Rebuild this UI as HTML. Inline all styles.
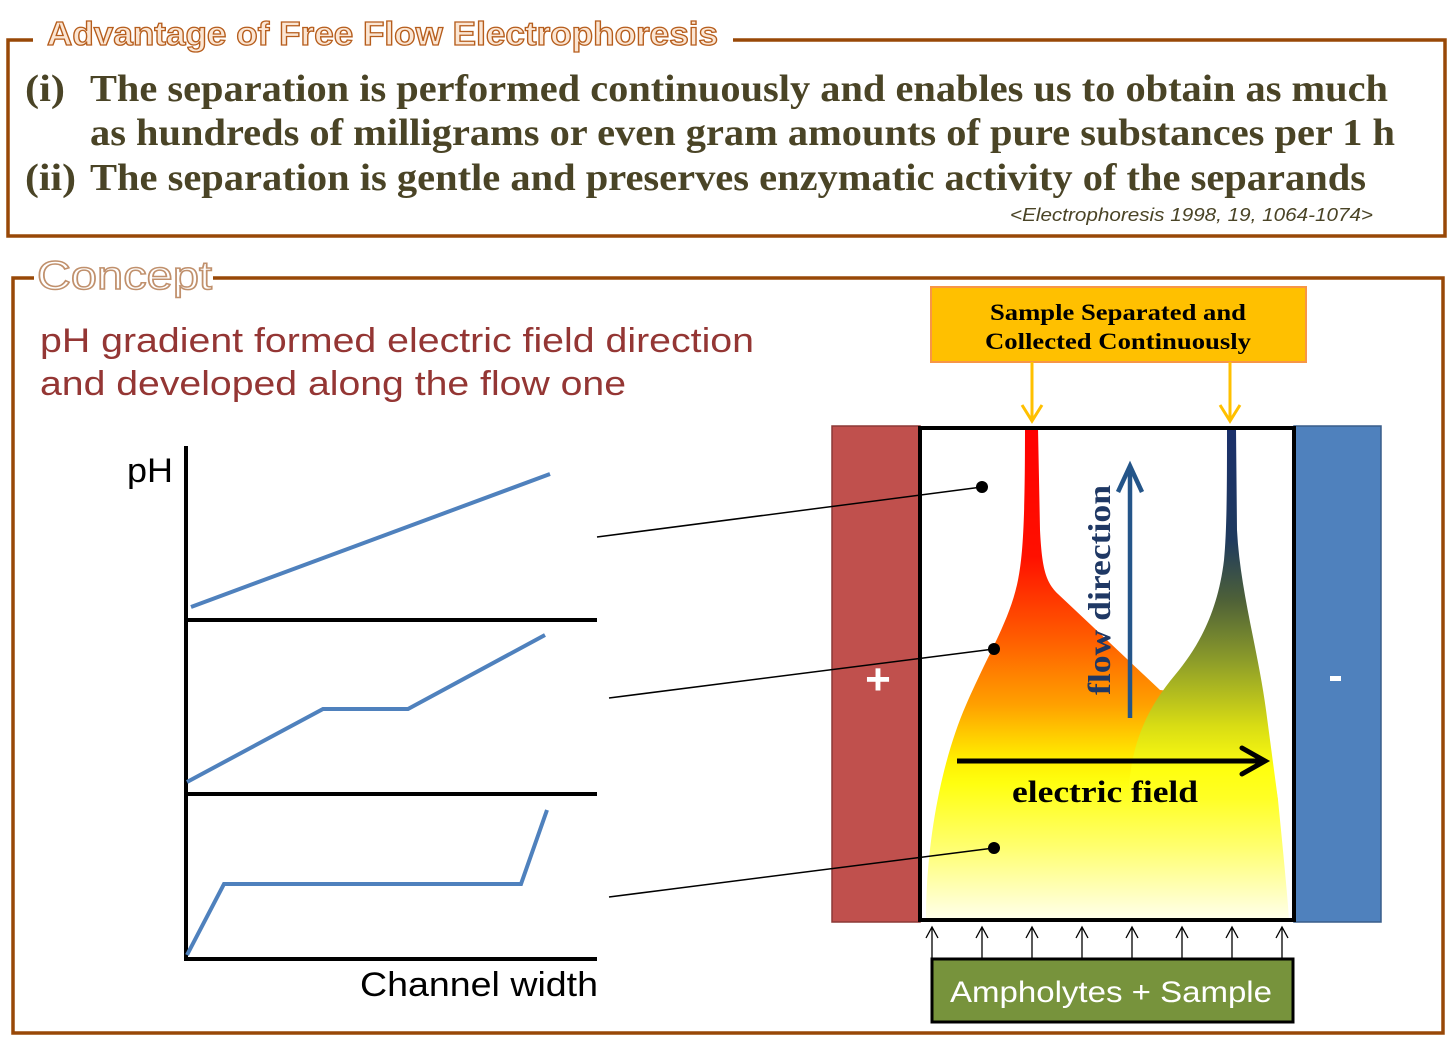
<!DOCTYPE html>
<html><head><meta charset="utf-8"><style>
html,body{margin:0;padding:0;background:#fff;}
svg{display:block;}
</style></head><body>
<svg width="1448" height="1039" viewBox="0 0 1448 1039" xmlns="http://www.w3.org/2000/svg">
<defs>
<linearGradient id="gMain" gradientUnits="userSpaceOnUse" x1="0" y1="428" x2="0" y2="922">
<stop offset="0" stop-color="#ff0000"/>
<stop offset="0.26" stop-color="#ff1000"/>
<stop offset="0.42" stop-color="#ff5a00"/>
<stop offset="0.56" stop-color="#ffa000"/>
<stop offset="0.67" stop-color="#ffee00"/>
<stop offset="0.72" stop-color="#ffff10"/>
<stop offset="0.85" stop-color="#ffff70"/>
<stop offset="1" stop-color="#fffff0"/>
</linearGradient>
<linearGradient id="gGreen" gradientUnits="userSpaceOnUse" x1="0" y1="428" x2="0" y2="800">
<stop offset="0" stop-color="#1a2f6a"/>
<stop offset="0.30" stop-color="#1f3a5e"/>
<stop offset="0.46" stop-color="#4d6038"/>
<stop offset="0.62" stop-color="#8a9a2a"/>
<stop offset="0.80" stop-color="#d8dc14"/>
<stop offset="0.92" stop-color="#ffff10"/>
<stop offset="1" stop-color="#ffff26"/>
</linearGradient>
</defs>

<!-- Top box -->
<path d="M33,40 L8,40 L8,236 L1445,236 L1445,40 L733,40" fill="none" stroke="#984807" stroke-width="3.5"/>
<text x="47" y="45" font-family="Liberation Sans, Arial, sans-serif" font-weight="bold" font-size="33" fill="#fbe6d4" stroke="#b65d1c" stroke-width="1.3" textLength="671" lengthAdjust="spacingAndGlyphs">Advantage of Free Flow Electrophoresis</text>

<g font-family="Liberation Serif, serif" font-weight="bold" font-size="38" fill="#4a4426">
<text x="25" y="101" textLength="40" lengthAdjust="spacingAndGlyphs">(i)</text>
<text x="90" y="101" textLength="1298" lengthAdjust="spacingAndGlyphs">The separation is performed continuously and enables us to obtain as much</text>
<text x="90" y="145" textLength="1305" lengthAdjust="spacingAndGlyphs">as hundreds of milligrams or even gram amounts of pure substances  per 1 h</text>
<text x="25" y="190" textLength="51" lengthAdjust="spacingAndGlyphs">(ii)</text>
<text x="90" y="190" textLength="1276" lengthAdjust="spacingAndGlyphs">The separation is gentle and preserves enzymatic activity of the separands</text>
</g>
<text x="1010" y="221" font-family="Liberation Sans, sans-serif" font-style="italic" font-size="18" fill="#4a4426" textLength="363" lengthAdjust="spacingAndGlyphs">&lt;Electrophoresis 1998, 19, 1064-1074&gt;</text>

<!-- Bottom box -->
<path d="M34,278 L13,278 L13,1033 L1443,1033 L1443,278 L213,278" fill="none" stroke="#984807" stroke-width="3.5"/>
<text x="37" y="289" font-family="Liberation Sans, Arial, sans-serif" font-size="40" fill="#ffffff" stroke="#c0906c" stroke-width="1.5" textLength="175" lengthAdjust="spacingAndGlyphs">Concept</text>

<g font-family="Liberation Sans, sans-serif" font-size="34" fill="#943634">
<text x="40" y="352" textLength="714" lengthAdjust="spacingAndGlyphs">pH gradient formed electric field direction</text>
<text x="40" y="395" textLength="586" lengthAdjust="spacingAndGlyphs">and developed along the flow one</text>
</g>

<!-- Graph -->
<g stroke="#000" stroke-width="4" fill="none">
<line x1="186" y1="446" x2="186" y2="961"/>
<line x1="184" y1="620" x2="597" y2="620"/>
<line x1="184" y1="794" x2="597" y2="794"/>
<line x1="184" y1="959" x2="597" y2="959"/>
</g>
<g stroke="#4f81bd" stroke-width="4" fill="none" stroke-linejoin="miter">
<polyline points="191,607 550,474"/>
<polyline points="187,782 323,709 408,709 545,635"/>
<polyline points="187,955 224,884 521,884 547,810"/>
</g>
<text x="127" y="482" font-family="Liberation Sans, sans-serif" font-size="34" fill="#000" textLength="46" lengthAdjust="spacingAndGlyphs">pH</text>
<text x="360" y="996" font-family="Liberation Sans, sans-serif" font-size="34" fill="#000" textLength="238" lengthAdjust="spacingAndGlyphs">Channel width</text>

<!-- Electrodes -->
<rect x="832" y="426" width="88" height="496" fill="#c0504d" stroke="#8c3836" stroke-width="1.5"/>
<rect x="1294" y="426" width="87" height="496" fill="#4f81bd" stroke="#385d8a" stroke-width="1.5"/>
<rect x="920" y="428" width="374" height="492" fill="#ffffff"/>

<!-- Bands -->
<path d="M1025,428 L1038,428 L1040,530 C1042,570 1046,582 1058,594 L1160,690 L1262,700 L1278,800 C1283,850 1287,890 1289,920 L926,920 C926,840 942,760 966,705 C990,650 1010,620 1018,580 C1023,555 1025,520 1025,428 Z" fill="url(#gMain)"/>
<path d="M1227,428 L1236,428 L1237,530 C1240,590 1258,650 1266,710 L1278,800 L1128,800 C1130,740 1150,705 1175,675 C1200,645 1218,610 1224,560 C1227,530 1227,480 1227,428 Z" fill="url(#gGreen)"/>

<!-- Channel border -->
<rect x="920" y="428" width="374" height="492" fill="none" stroke="#000" stroke-width="4"/>

<!-- + and - -->
<text x="878" y="694" text-anchor="middle" font-family="Liberation Sans, sans-serif" font-weight="bold" font-size="44" fill="#fff">+</text>
<rect x="1330" y="676" width="11" height="5" fill="#fff"/>

<!-- Flow direction arrow -->
<line x1="1130" y1="718" x2="1130" y2="468" stroke="#245589" stroke-width="4.5"/>
<polyline points="1118,492 1130,466 1142,492" fill="none" stroke="#245589" stroke-width="4.5" stroke-linejoin="miter"/>
<text transform="translate(1110,695) rotate(-90)" font-family="Liberation Serif, serif" font-weight="bold" font-size="32" fill="#1f3864" textLength="210" lengthAdjust="spacingAndGlyphs">flow direction</text>

<!-- Electric field arrow -->
<line x1="957" y1="761" x2="1262" y2="761" stroke="#000" stroke-width="5"/>
<polyline points="1242,748 1265,761 1242,774" fill="none" stroke="#000" stroke-width="5" stroke-linejoin="miter" stroke-linecap="round"/>
<text x="1012" y="802" font-family="Liberation Serif, serif" font-weight="bold" font-size="31" fill="#000" textLength="186" lengthAdjust="spacingAndGlyphs">electric field</text>

<!-- Connectors -->
<g stroke="#000" stroke-width="1.5">
<line x1="597" y1="537" x2="982" y2="487"/>
<line x1="609" y1="698" x2="994" y2="649"/>
<line x1="609" y1="897" x2="994" y2="848"/>
</g>
<g fill="#000">
<circle cx="982" cy="487" r="6"/>
<circle cx="994" cy="649" r="6"/>
<circle cx="994" cy="848" r="6"/>
</g>

<!-- Orange box -->
<rect x="931" y="287" width="375" height="75" fill="#ffc000" stroke="#f79646" stroke-width="2"/>
<g font-family="Liberation Serif, serif" font-weight="bold" font-size="23" fill="#000" text-anchor="middle">
<text x="1118" y="320" textLength="256" lengthAdjust="spacingAndGlyphs">Sample Separated and</text>
<text x="1118" y="349" textLength="266" lengthAdjust="spacingAndGlyphs">Collected Continuously</text>
</g>
<g stroke="#ffc000" stroke-width="3" fill="none">
<line x1="1032" y1="362" x2="1032" y2="421"/>
<polyline points="1022,405 1032,421 1042,405"/>
<line x1="1230" y1="362" x2="1230" y2="421"/>
<polyline points="1220,405 1230,421 1240,405"/>
</g>

<!-- Small arrows -->
<g stroke="#000" stroke-width="1.3" fill="none">
<path d="M932,958 V928 M926,938 L932,927 L938,938"/>
<path d="M982,958 V928 M976,938 L982,927 L988,938"/>
<path d="M1032,958 V928 M1026,938 L1032,927 L1038,938"/>
<path d="M1082,958 V928 M1076,938 L1082,927 L1088,938"/>
<path d="M1132,958 V928 M1126,938 L1132,927 L1138,938"/>
<path d="M1182,958 V928 M1176,938 L1182,927 L1188,938"/>
<path d="M1232,958 V928 M1226,938 L1232,927 L1238,938"/>
<path d="M1282,958 V928 M1276,938 L1282,927 L1288,938"/>
</g>

<!-- Green box -->
<rect x="932" y="959" width="361" height="63" fill="#77933c" stroke="#000" stroke-width="3"/>
<text x="1111" y="1002" text-anchor="middle" font-family="Liberation Sans, sans-serif" font-size="30" fill="#fff" textLength="322" lengthAdjust="spacingAndGlyphs">Ampholytes + Sample</text>
</svg>
</body></html>
